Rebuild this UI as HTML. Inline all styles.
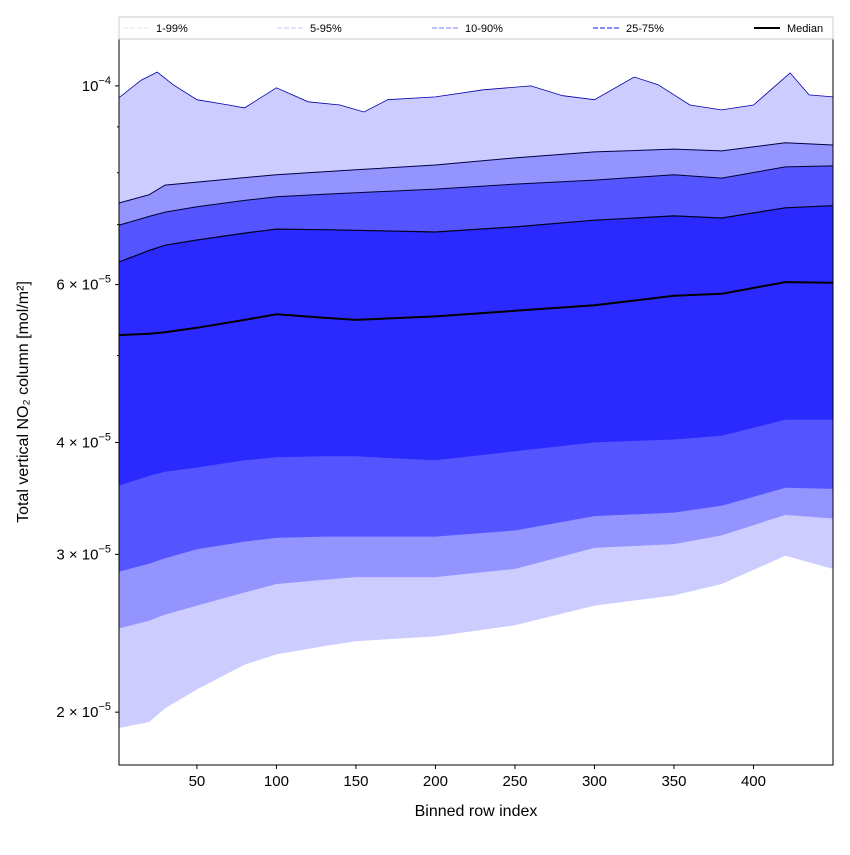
<!DOCTYPE html>
<html><head><meta charset="utf-8"><style>
body{margin:0;background:#fff;font-family:"Liberation Sans","DejaVu Sans",sans-serif;}
svg text{font-family:"Liberation Sans","DejaVu Sans",sans-serif;}
</style></head><body>
<svg id="chart" width="850" height="850" xmlns="http://www.w3.org/2000/svg"></svg>
<script>
// data (values in 1e-5 mol/m^2)
const rows = [1,20,30,50,80,100,130,150,200,250,300,350,380,420,450];
const p95 = [7.40,7.56,7.75,7.81,7.90,7.96,8.02,8.06,8.16,8.31,8.44,8.50,8.46,8.64,8.59];
const p90 = [6.99,7.15,7.23,7.33,7.45,7.52,7.57,7.60,7.67,7.77,7.85,7.96,7.89,8.12,8.14];
const p75 = [6.36,6.55,6.64,6.73,6.85,6.92,6.91,6.90,6.87,6.96,7.08,7.16,7.12,7.31,7.35];
const p50 = [5.27,5.29,5.31,5.37,5.48,5.56,5.51,5.48,5.53,5.61,5.69,5.83,5.86,6.04,6.03];
const p25 = [3.58,3.67,3.71,3.75,3.82,3.85,3.86,3.86,3.82,3.91,4.00,4.03,4.07,4.24,4.24];
const p10 = [2.87,2.93,2.97,3.04,3.10,3.13,3.14,3.14,3.14,3.19,3.31,3.34,3.40,3.56,3.55];
const p5  = [2.48,2.53,2.57,2.63,2.72,2.78,2.81,2.83,2.83,2.89,3.05,3.08,3.15,3.32,3.29];
const p1  = [1.92,1.95,2.02,2.12,2.26,2.32,2.37,2.40,2.43,2.50,2.63,2.70,2.78,2.99,2.89];
const rows99 = [1,15,25,35,50,70,80,100,120,140,155,170,200,230,260,280,300,325,340,360,380,400,423,435,450];
const p99 = [9.70,10.15,10.36,10.03,9.65,9.52,9.45,9.95,9.60,9.52,9.35,9.65,9.72,9.90,10.0,9.75,9.65,10.23,10.03,9.52,9.40,9.52,10.34,9.77,9.72];
const xTicks = [50,100,150,200,250,300,350,400];
const yTicks = [2,3,4,6,10];
const yTickLabels = ["2","3","4","6",""];

const L=119,R=833,T=39,B=765;
const X0=1,X1=450, YMIN=1.746,YMAX=11.28;
const xs=v=>L+(v-X0)/(X1-X0)*(R-L);
const ys=v=>B-(Math.log10(v)-Math.log10(YMIN))/(Math.log10(YMAX)-Math.log10(YMIN))*(B-T);
const NS="http://www.w3.org/2000/svg";
const svg=document.getElementById('chart');
function mk(tag,attrs,parent){const e=document.createElementNS(NS,tag);for(const k in attrs)e.setAttribute(k,attrs[k]);(parent||svg).appendChild(e);return e;}
function pts(xa,ya){return xa.map((x,i)=>xs(x).toFixed(1)+','+ys(ya[i]).toFixed(1));}
const clip=mk('clipPath',{id:'pc'});mk('rect',{x:L,y:T,width:R-L,height:B-T},clip);
const g=mk('g',{'clip-path':'url(#pc)'});
function band(xu,yu,xl,yl,color,name){
  const p=mk('polygon',{points:pts(xu,yu).concat(pts(xl,yl).reverse()).join(' '),fill:color},g);
  
  
}
band(rows99,p99,rows,p1,'#ccccff','band-1-99');
band(rows,p95,rows,p5,'#9494ff','band-5-95');
band(rows,p90,rows,p10,'#5555ff','band-10-90');
band(rows,p75,rows,p25,'#2a2aff','band-25-75');
function line(xa,ya,color,w,name){
  const p=mk('polyline',{points:pts(xa,ya).join(' '),fill:'none',stroke:color,'stroke-width':w},g);
  
  
}
line(rows99,p99,'#0000aa',0.8,'line-p99');
line(rows,p95,'#000044',1,'line-p95');
line(rows,p90,'#000033',1,'line-p90');
line(rows,p75,'#000022',1.2,'line-p75');
line(rows,p50,'#000',2,'line-median');
mk('rect',{x:L,y:T,width:R-L,height:B-T,fill:'none',stroke:'#000','stroke-width':1,});
xTicks.forEach(t=>{const x=xs(t);
  mk('line',{x1:x,x2:x,y1:B,y2:B+4,stroke:'#000'});
  const tx=mk('text',{x:x,y:B+21,'text-anchor':'middle','font-size':15});tx.textContent=t;
  
  
});
yTicks.forEach((t,i)=>{const y=ys(t);
  mk('line',{x1:L-4,x2:L,y1:y,y2:y,stroke:'#000'});
  const tx=mk('text',{x:L-8,y:y+5,'text-anchor':'end','font-size':15});
  if(t===10){tx.innerHTML='10<tspan dy="-7" font-size="11">−4</tspan>';}
  else{tx.innerHTML=yTickLabels[i]+' × 10<tspan dy="-7" font-size="11">−5</tspan>';}
  
  
});
[5,7,8,9].forEach(t=>{const y=ys(t);mk('line',{x1:L-2,x2:L,y1:y,y2:y,stroke:'#000'});});
const xt=mk('text',{x:(L+R)/2,y:816,'text-anchor':'middle','font-size':16});xt.textContent='Binned row index';

const yt=mk('text',{x:0,y:0,'text-anchor':'middle','font-size':16,transform:'translate(28,402) rotate(-90)'});yt.textContent='Total vertical NO₂ column [mol/m²]';

// legend
const lg=mk('g',{});
mk('rect',{x:119,y:17,width:714,height:22,fill:'#fff',stroke:'#ccc'},lg);
const entries=[['1-99%','#ccccff',0.6,123],['5-95%','#9494ff',0.6,277],['10-90%','#7777ff',1,432],['25-75%','#4444ff',1.2,593],['Median','#000',2,754]];
entries.forEach(e=>{
  const ent=mk('g',{},lg);
  
  
  mk('line',{x1:e[3],x2:e[3]+26,y1:28,y2:28,stroke:e[1],'stroke-width':e[2],'stroke-dasharray':e[0]==='Median'?'':'5,2'},ent);
  const t=mk('text',{x:e[3]+33,y:32,'font-size':11},ent);t.textContent=e[0];
});
</script>
</body></html>
